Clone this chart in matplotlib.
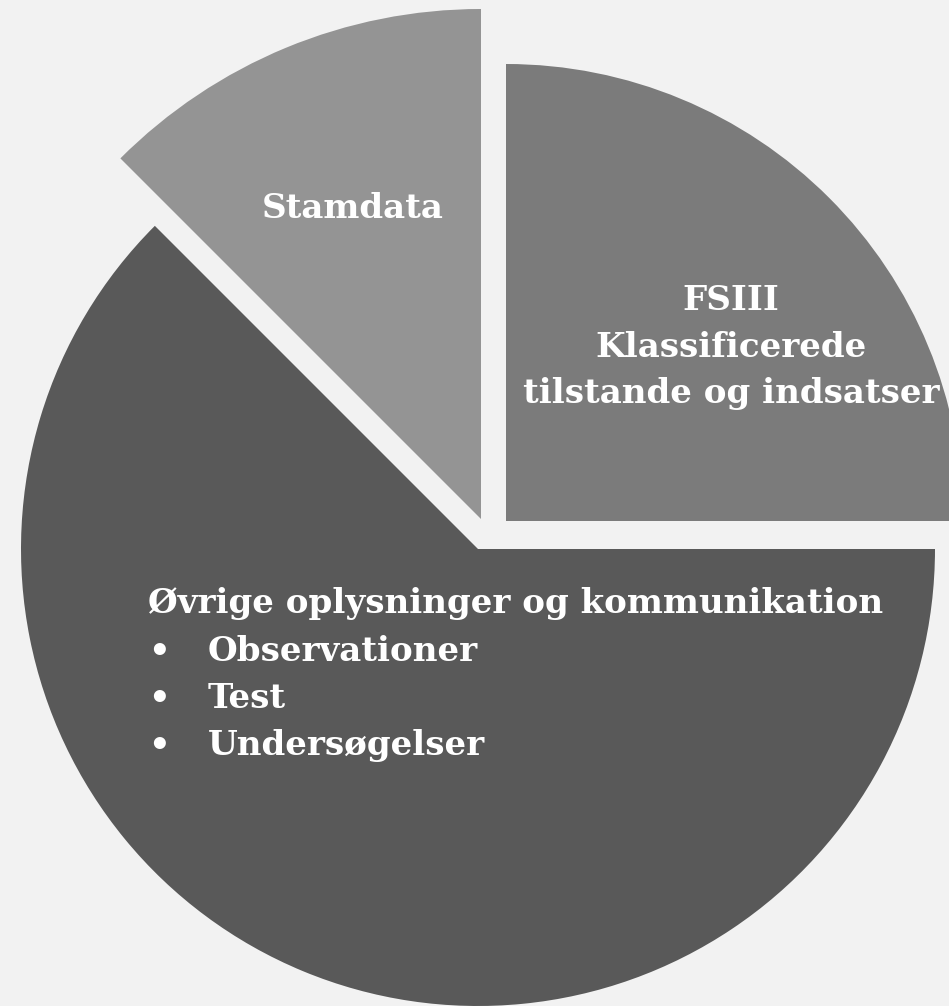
import matplotlib
matplotlib.use("Agg")
import matplotlib.pyplot as plt

# Slice data (share of the whole), counter-clockwise from 3 o'clock
labels = ["FSIII", "Stamdata", "Øvrige oplysninger og kommunikation"]
shares = [25.0, 12.5, 62.5]
colors = ["#7b7b7b", "#949494", "#595959"]

fsiii_lines = ["FSIII", "Klassificerede", "tilstande og indsatser"]
ovrige_title = "Øvrige oplysninger og kommunikation"
ovrige_bullets = ["Observationer", "Test", "Undersøgelser"]

W, H = 949, 1006
bg = "#f2f2f2"
font = dict(family="DejaVu Serif", fontweight="bold", color="white", fontsize=24.6)

fig = plt.figure(figsize=(W / 100, H / 100), dpi=100, facecolor=bg)
ax = fig.add_axes([0, 0, 1, 1])
ax.set_facecolor(bg)

# pie in pixel space (y up); explode is in data units here
wedges, _ = ax.pie(shares, colors=colors, startangle=0, counterclock=True,
                   center=(478, H - 549), radius=457,
                   explode=[39.6, 0, 0],
                   wedgeprops=dict(linewidth=0), frame=True)
ax.set_xlim(0, W)
ax.set_ylim(0, H)
ax.set_aspect("equal")
ax.axis("off")
# Stamdata slice is drawn larger and shifted up
wedges[1].set_center((481, H - 519))
wedges[1].set_radius(510)

# labels
ax.text(353, H - 218, labels[1], ha="center", va="baseline", **font)

for i, line in enumerate(fsiii_lines):
    ax.text(731, H - 310 - i * 46.5, line, ha="center", va="baseline", **font)

ax.text(148, H - 613, ovrige_title, ha="left", va="baseline", **font)
for i, item in enumerate(ovrige_bullets):
    y = H - 661 - i * 47
    ax.text(148, y, "•", ha="left", va="baseline", **font)
    ax.text(208, y, item, ha="left", va="baseline", **font)

fig.savefig("out.png", dpi=100, facecolor=bg)
